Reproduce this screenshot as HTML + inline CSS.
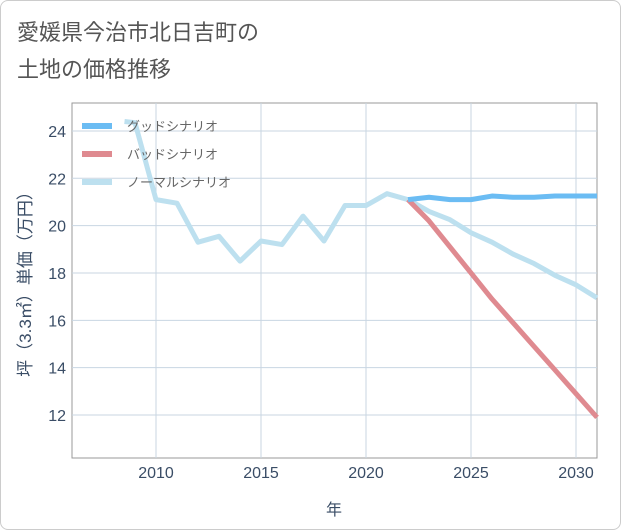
<!DOCTYPE html>
<html><head><meta charset="utf-8"><style>
body{margin:0;background:#fff;font-family:"Liberation Sans","Noto Sans CJK JP",sans-serif;}
#wrap{position:relative;width:619px;height:528px;border:1px solid #ccc;border-radius:8px;background:#fff;}
</style></head><body>
<div id="wrap">
<svg id="c" width="621" height="530" style="position:absolute;left:-1px;top:-1px">
<text x="17" y="40" font-size="22" fill="#555">愛媛県今治市北日吉町の</text>
<text x="17" y="77" font-size="22" fill="#555">土地の価格推移</text>
<rect x="72" y="103" width="525" height="355" fill="#fff" stroke="#999" stroke-width="1"/>
<g id="grid"></g><g id="series"></g><g id="axes"></g>
<text x="31" y="280" font-size="17" fill="#3a4d66" transform="rotate(-90 31 280)" text-anchor="middle">坪（3.3㎡）単価（万円）</text>
<text x="334" y="515" font-size="16" fill="#3a4d66" text-anchor="middle">年</text>
<g id="legend"></g>
</svg></div>
<script>
const normalYears=[2008.5,2009,2010,2011,2012,2013,2014,2015,2016,2017,2018,2019,2020,2021,2022,2023,2024,2025,2026,2027,2028,2029,2030,2031];
const normalValues=[24.4,24.35,21.1,20.95,19.3,19.55,18.5,19.35,19.2,20.4,19.35,20.85,20.85,21.35,21.1,20.6,20.25,19.7,19.3,18.8,18.4,17.9,17.5,16.95];
const badYears=[2022,2023,2024,2025,2026,2027,2028,2029,2030,2031];
const badValues=[21.1,20.2,19.1,18.0,16.9,15.9,14.9,13.9,12.9,11.9];
const goodYears=[2022,2023,2024,2025,2026,2027,2028,2029,2030,2031];
const goodValues=[21.1,21.2,21.1,21.1,21.25,21.2,21.2,21.25,21.25,21.25];
const xTicks=[2010,2015,2020,2025,2030];
const yTicks=[12,14,16,18,20,22,24];
const NS="http://www.w3.org/2000/svg";
const X=v=>72+(v-2006)*21;
const Y=v=>415-(v-12)*23.67;
function mk(t,a,p){const e=document.createElementNS(NS,t);for(const k in a)e.setAttribute(k,a[k]);p.appendChild(e);return e;}
const grid=document.getElementById('grid'),axes=document.getElementById('axes');
xTicks.forEach(t=>{
const l=mk('line',{x1:X(t),x2:X(t),y1:103,y2:458,stroke:'#c8d6e2'},grid);


const tx=mk('text',{x:X(t),y:478,'font-size':16,fill:'#3a4d66','text-anchor':'middle'},axes);tx.textContent=t;


});
yTicks.forEach(t=>{
const l=mk('line',{x1:72,x2:597,y1:Y(t),y2:Y(t),stroke:'#c8d6e2'},grid);


const tx=mk('text',{x:66,y:Y(t)+6,'font-size':16,fill:'#3a4d66','text-anchor':'end'},axes);tx.textContent=t;


});
const series=document.getElementById('series');
function line(xs,ys,color,name){
const p=mk('polyline',{points:xs.map((x,i)=>X(x)+','+Y(ys[i])).join(' '),fill:'none',stroke:color,'stroke-width':5,'stroke-linejoin':'round'},series);


}
line(normalYears,normalValues,'#bde0ef','normal-scenario-line');
line(badYears,badValues,'#df8a90','bad-scenario-line');
line(goodYears,goodValues,'#6bbcf3','good-scenario-line');
const lg=document.getElementById('legend');
[['グッドシナリオ','#6bbcf3','legend-good'],['バッドシナリオ','#df8a90','legend-bad'],['ノーマルシナリオ','#bde0ef','legend-normal']].forEach((d,i)=>{
const y=126+i*28;
const g=mk('g',{},lg);


mk('line',{x1:82,x2:112,y1:y,y2:y,stroke:d[1],'stroke-width':6},g);
const t=mk('text',{x:127,y:y+5,'font-size':13,fill:'#666'},g);t.textContent=d[0];
});
</script>
</body></html>
